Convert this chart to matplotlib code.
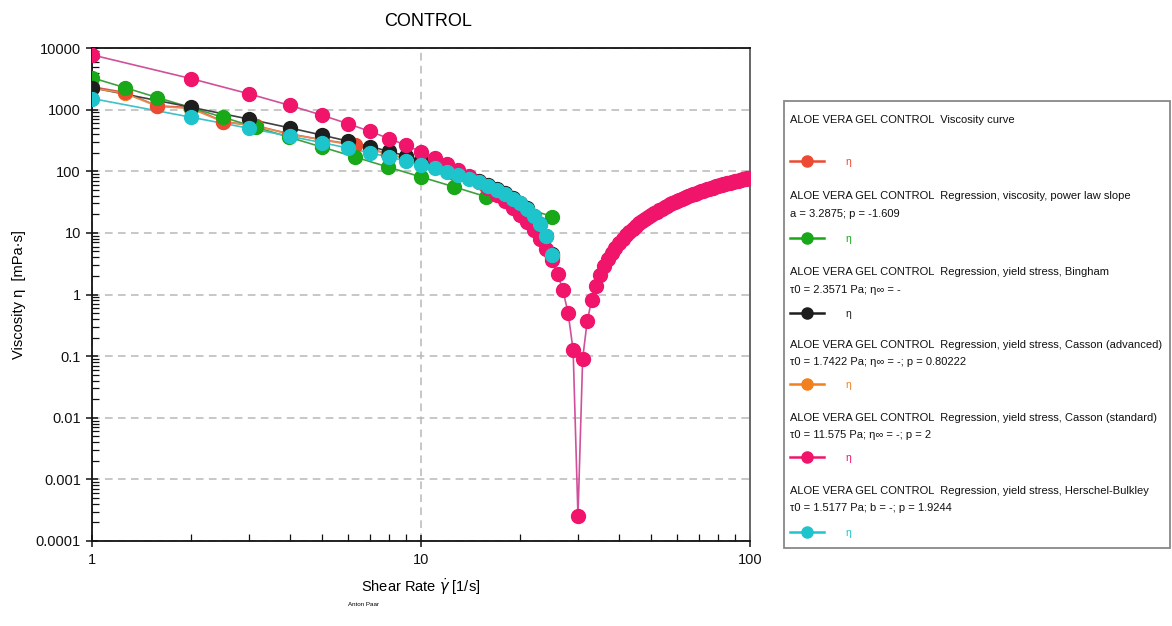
import matplotlib
matplotlib.use("Agg")
import matplotlib.pyplot as plt
from matplotlib.ticker import FixedLocator, NullFormatter, LogLocator
from matplotlib.patches import Rectangle

plt.rcParams['font.family'] = ['Liberation Sans', 'DejaVu Sans']

# ---------------- data ----------------
# log-spaced shear rates (10 points per decade) used by measured curve & log-spaced fits
rate_log = [1, 1.26, 1.58, 2, 2.51, 3.16, 3.98, 5.01, 6.31, 7.94, 10, 12.6, 15.8, 20, 25.1]
# integer shear rates 1..25
rate_int = [1, 2, 3, 4, 5, 6, 7, 8, 9, 10, 11, 12, 13, 14, 15, 16, 17, 18, 19, 20,
            21, 22, 23, 24, 25]
# integer shear rates 1..100 (Casson standard)
rate_full = list(range(1, 101))

eta_curve = [2350, 1900, 1150, 1080, 640, 545, 405, 325, 270, 192, 138, 94, 58, 27, 4]
eta_power = [3288, 2270, 1568, 1078, 747, 515, 356, 246, 170, 117, 80.9, 55.8, 38.5, 26.6, 18.4]
eta_bingham = [2272, 1094, 701, 504, 386, 308, 252, 210, 177, 151, 129, 111, 96, 80, 69,
               60, 52, 44, 37, 31, 25, 19, 14, 9, 4.5]
eta_casson_adv = [2250, 1830, 1130, 1040, 630, 540, 400, 322, 262, 190, 136, 93, 57, 26, 4]
eta_casson_std = [7737, 3187, 1805, 1167, 812, 590, 443, 339, 264, 207,
                  164, 131, 104, 83.3, 66.5, 52.9, 41.8, 32.9, 25.6, 19.6,
                  14.8, 11.0, 7.89, 5.46, 3.58, 2.17, 1.17, 0.50, 0.125, 0.00025,
                  0.091, 0.367, 0.804, 1.38, 2.07, 2.87, 3.76, 4.72, 5.75, 6.83,
                  7.97, 9.15, 10.4, 11.6, 12.9, 14.2, 15.5, 16.8, 18.1, 19.4,
                  20.8, 22.1, 23.5, 24.8, 26.2, 27.5, 28.9, 30.2, 31.6, 32.9,
                  34.2, 35.5, 36.8, 38.1, 39.4, 40.7, 42.0, 43.3, 44.5, 45.8,
                  47.0, 48.2, 49.5, 50.7, 51.9, 53.1, 54.2, 55.4, 56.6, 57.7,
                  58.8, 60.0, 61.1, 62.2, 63.3, 64.4, 65.5, 66.5, 67.6, 68.6,
                  69.7, 70.7, 71.7, 72.7, 73.7, 74.7, 75.7, 76.7, 77.7, 78.6]
eta_hb = [1515, 753, 498, 369, 291, 238, 199, 170, 147, 128, 112, 98, 86, 75, 66,
          58, 50, 43, 36, 30, 24, 19, 14, 9.0, 4.4]

series_names = [
    ("ALOE VERA GEL CONTROL  Viscosity curve", None),
    ("ALOE VERA GEL CONTROL  Regression, viscosity, power law slope", "a = 3.2875; p = -1.609"),
    ("ALOE VERA GEL CONTROL  Regression, yield stress, Bingham", "τ0 = 2.3571 Pa; η∞ = -"),
    ("ALOE VERA GEL CONTROL  Regression, yield stress, Casson (advanced)", "τ0 = 1.7422 Pa; η∞ = -; p = 0.80222"),
    ("ALOE VERA GEL CONTROL  Regression, yield stress, Casson (standard)", "τ0 = 11.575 Pa; η∞ = -; p = 2"),
    ("ALOE VERA GEL CONTROL  Regression, yield stress, Herschel-Bulkley", "τ0 = 1.5177 Pa; b = -; p = 1.9244"),
]
colors = ["#ec4a34", "#18a818", "#1e1e1e", "#f2801e", "#f0146a", "#1ec4cc"]
line_colors = ["#e05050", "#40a040", "#404040", "#e09050", "#d0509a", "#40c0c8"]
zorders = [3.05, 3.1, 3.2, 3.0, 3.3, 3.6]

yticks = [1e-4, 1e-3, 1e-2, 1e-1, 1, 10, 100, 1000, 10000]
ytick_labels = ["0.0001", "0.001", "0.01", "0.1", "1", "10", "100", "1000", "10000"]
xticks = [1, 10, 100]
xtick_labels = ["1", "10", "100"]

# ---------------- figure ----------------
W, H = 1172, 626
fig = plt.figure(figsize=(W / 100, H / 100), dpi=100)
ax = fig.add_axes([92 / W, 1 - 541 / H, (750 - 92) / W, (541 - 48) / H])

data = [(rate_log, eta_curve), (rate_log, eta_power), (rate_int, eta_bingham),
        (rate_log, eta_casson_adv), (rate_full, eta_casson_std), (rate_int, eta_hb)]
for (x, y), c, lc, z in zip(data, colors, line_colors, zorders):
    ax.plot(x, y, color=lc, lw=1.2, zorder=2)
    ax.plot(x, y, ls='none', marker='o', ms=10, mfc=c, mec=c, zorder=z)

ax.set_xscale('log')
ax.set_yscale('log')
ax.set_xlim(1, 100)
ax.set_ylim(1e-4, 1e4)
ax.yaxis.set_major_locator(FixedLocator(yticks))
ax.set_yticklabels(ytick_labels)
ax.xaxis.set_major_locator(FixedLocator(xticks))
ax.set_xticklabels(xtick_labels)
ax.xaxis.set_minor_locator(LogLocator(base=10, subs=range(2, 10)))
ax.yaxis.set_minor_locator(LogLocator(base=10, subs=range(2, 10), numticks=20))
ax.xaxis.set_minor_formatter(NullFormatter())
ax.yaxis.set_minor_formatter(NullFormatter())
ax.tick_params(which='major', direction='inout', length=9, width=1.1, labelsize=10.5,
               colors='#111111')
ax.tick_params(which='minor', direction='in', length=5, width=0.9, colors='#111111')
ax.tick_params(axis='x', which='major', pad=4)

ax.grid(True, which='major', ls=(0, (5, 3.5)), color='#b8b8b8', lw=1.1, zorder=0)
for s in ['left', 'bottom', 'top']:
    ax.spines[s].set_linewidth(1.3)
    ax.spines[s].set_color('#111111')
ax.spines['right'].set_linewidth(1.4)
ax.spines['right'].set_color('#666666')

ax.set_ylabel("Viscosity η  [mPa·s]", fontsize=10.5, labelpad=7)
ax.set_xlabel(r"Shear Rate $\dot{\gamma}$ [1/s]", fontsize=10.5, labelpad=7)
fig.text(428 / W, 1 - 22 / H, "CONTROL", ha='center', va='center', fontsize=13)
fig.text(364 / W, 1 - 604 / H, "Anton Paar", ha='center', va='center', fontsize=4.5)

# ---------------- legend panel ----------------
lx0, ly0, lx1, ly1 = 783, 100, 1170, 548
lax = fig.add_axes([lx0 / W, 1 - ly1 / H, (lx1 - lx0) / W, (ly1 - ly0) / H])
lax.set_xlim(0, lx1 - lx0)
lax.set_ylim(ly1 - ly0, 0)
lax.axis('off')
lax.add_patch(Rectangle((0.5, 0.5), lx1 - lx0 - 1, ly1 - ly0 - 1, fill=False,
                        ec='#888888', lw=1.3, clip_on=False))

head_y = [20, 96, 172, 245, 318, 391]
param_y = [None, 114, 190, 262, 335, 408]
handle_y = [61, 138, 213, 284, 357, 432]
for (head, par), hy, py, hdy, c in zip(series_names, head_y, param_y, handle_y, colors):
    lax.text(7, hy, head, fontsize=8, va='center', ha='left', color='#111111')
    if par:
        lax.text(7, py, par, fontsize=8, va='center', ha='left', color='#111111')
    lax.plot([7, 41], [hdy, hdy], color=c, lw=1.8)
    lax.plot([24], [hdy], marker='o', ms=8, mfc=c, mec=c)
    lax.text(62, hdy + 1, "η", fontsize=7.5, va='center', ha='left', color=c)

fig.savefig("out.png", dpi=100)
